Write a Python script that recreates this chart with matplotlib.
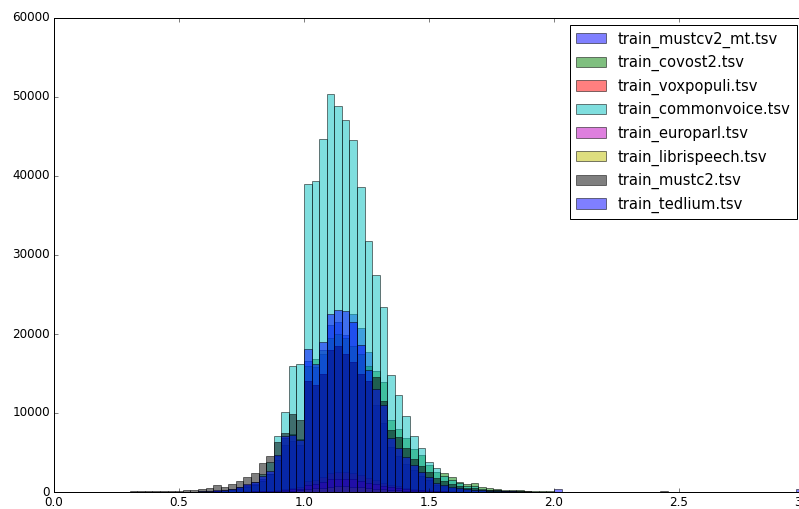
import numpy as np
import matplotlib
matplotlib.use("Agg")
import matplotlib.pyplot as plt

# ---- data: counts per bin, 99 bins between 0 and 3 ----
bin_lo, bin_hi, n_edges = 0.0, 3.0, 100

labels = ["train_mustcv2_mt.tsv", "train_covost2.tsv", "train_voxpopuli.tsv",
          "train_commonvoice.tsv", "train_europarl.tsv", "train_librispeech.tsv",
          "train_mustc2.tsv", "train_tedlium.tsv"]

mustcv2_mt = [0, 0, 0, 0, 0, 0, 0, 0, 0, 0, 0,
              0, 0, 0, 0, 10, 20, 30, 40, 50, 60,
              120, 180, 250, 450, 800, 1000, 1700, 2300, 4000, 6000,
              6500, 6000, 16580, 15800, 17500, 21140, 21500, 19880, 22530, 20800,
              17720, 11010, 8700, 5740, 4500, 3500, 2800, 2000, 1500, 900,
              700, 550, 400, 300, 250, 180, 130, 100, 80, 60,
              50, 40, 30, 20, 20, 340, 30, 20, 20, 10,
              10, 30, 30, 30, 30, 30, 30, 30, 30, 30,
              30, 30, 30, 30, 30, 10, 10, 10, 10, 10,
              10, 10, 10, 10, 10, 10, 10, 340]

covost2 = [0, 0, 0, 0, 0, 0, 0, 0, 0, 0, 0,
           0, 0, 0, 0, 0, 0, 20, 30, 40, 50,
           100, 150, 250, 400, 600, 900, 1400, 2300, 4500, 6800,
           7400, 6700, 16000, 16800, 18000, 19500, 20000, 19500, 18500, 17500,
           15950, 15360, 13960, 9110, 7940, 6800, 5450, 4680, 3420, 2570,
           2360, 1940, 1300, 1010, 1100, 590, 460, 380, 300, 250,
           200, 150, 120, 100, 80, 60, 50, 40, 30, 20,
           10, 10, 10, 0, 0, 0, 0, 0, 0, 0,
           0, 0, 0, 0, 0, 0, 0, 0, 0, 0,
           0, 0, 0, 0, 0, 0, 0, 0]

voxpopuli = [0, 0, 0, 0, 0, 0, 0, 0, 0, 0, 0,
             0, 0, 0, 0, 0, 0, 0, 0, 0, 20,
             30, 40, 50, 60, 70, 80, 90, 100, 200, 350,
             500, 600, 1400, 1500, 1900, 2400, 2500, 2500, 2400, 2100,
             1800, 1500, 1200, 900, 700, 550, 400, 300, 200, 150,
             100, 80, 60, 50, 40, 30, 20, 10, 10, 0,
             0, 0, 0, 0, 0, 0, 0, 0, 0, 0,
             0, 0, 0, 0, 0, 0, 0, 0, 0, 0,
             0, 0, 0, 0, 0, 0, 0, 0, 0, 0,
             0, 0, 0, 0, 0, 0, 0, 0]

commonvoice = [0, 0, 0, 0, 0, 0, 0, 0, 0, 0, 0,
               0, 0, 0, 0, 20, 30, 40, 60, 80, 100,
               150, 250, 400, 600, 900, 1300, 2300, 3840, 7050, 10100,
               15950, 16160, 39030, 39410, 44650, 50390, 48870, 47100, 44560, 38570,
               31740, 27430, 23380, 14770, 12340, 9620, 7150, 5600, 3860, 3100,
               2000, 1500, 1100, 800, 700, 400, 300, 200, 150, 100,
               80, 50, 40, 30, 20, 20, 10, 10, 10, 0,
               0, 0, 0, 0, 0, 0, 0, 0, 0, 0,
               0, 0, 0, 0, 0, 0, 0, 0, 0, 0,
               0, 0, 0, 0, 0, 0, 0, 0]

europarl = [0, 0, 0, 0, 0, 0, 0, 0, 0, 0, 0,
            0, 0, 0, 0, 0, 0, 0, 0, 0, 10,
            20, 30, 40, 50, 60, 70, 80, 90, 150, 250,
            350, 400, 900, 1000, 1300, 1600, 1700, 1700, 1600, 1400,
            1200, 1000, 800, 600, 450, 350, 250, 200, 150, 100,
            70, 50, 40, 30, 20, 10, 10, 0, 0, 0,
            0, 0, 0, 0, 0, 0, 0, 0, 0, 0,
            0, 0, 0, 0, 0, 0, 0, 0, 0, 0,
            0, 0, 0, 0, 0, 0, 0, 0, 0, 0,
            0, 0, 0, 0, 0, 0, 0, 0]

librispeech = [0, 0, 0, 0, 0, 0, 0, 0, 0, 0, 0,
               0, 0, 0, 0, 0, 0, 0, 0, 0, 0,
               10, 10, 20, 20, 30, 40, 50, 60, 80, 120,
               180, 200, 400, 450, 550, 650, 700, 700, 650, 600,
               500, 400, 330, 250, 200, 150, 100, 80, 60, 40,
               30, 20, 10, 10, 0, 0, 0, 0, 0, 0,
               0, 0, 0, 0, 0, 0, 0, 0, 0, 0,
               0, 0, 0, 0, 0, 0, 0, 0, 0, 0,
               0, 0, 0, 0, 0, 0, 0, 0, 0, 0,
               0, 0, 0, 0, 0, 0, 0, 0]

mustc2 = [0, 0, 0, 0, 0, 0, 0, 0, 0, 0, 100,
          100, 100, 100, 150, 150, 150, 200, 250, 340, 460,
          890, 670, 970, 1430, 1940, 2450, 3630, 4600, 6290, 7430,
          9830, 9110, 14000, 13500, 15000, 17980, 18500, 17500, 16500, 15000,
          14000, 14520, 11500, 7850, 7000, 5530, 4200, 3300, 2500, 1800,
          1400, 1000, 700, 500, 450, 300, 250, 200, 150, 120,
          100, 80, 60, 50, 40, 30, 30, 20, 20, 20,
          10, 10, 10, 10, 10, 10, 10, 10, 10, 170,
          10, 10, 10, 10, 10, 10, 10, 10, 10, 10,
          10, 10, 10, 10, 60, 10, 0, 0]

tedlium = [0, 0, 0, 0, 0, 0, 0, 0, 0, 0, 0,
           0, 0, 0, 0, 20, 30, 40, 50, 70, 100,
           200, 250, 350, 600, 1000, 1250, 2000, 2600, 4700, 7100,
           7220, 6580, 18150, 16200, 19030, 22530, 23040, 22960, 21560, 18610,
           15450, 13080, 11010, 6800, 5530, 4470, 3400, 2570, 1940, 1100,
           850, 650, 450, 350, 300, 200, 150, 120, 100, 80,
           60, 50, 40, 30, 20, 20, 10, 10, 10, 10,
           0, 0, 0, 0, 0, 0, 0, 0, 0, 0,
           0, 0, 0, 0, 0, 0, 0, 0, 0, 0,
           0, 0, 0, 0, 0, 0, 0, 0]

series = [mustcv2_mt, covost2, voxpopuli, commonvoice,
          europarl, librispeech, mustc2, tedlium]

# ---- plotting ----
plt.style.use("classic")
plt.rcParams["figure.facecolor"] = "white"
plt.rcParams["savefig.facecolor"] = "white"

W, H, DPI = 799, 509, 72
fig = plt.figure(figsize=(W / DPI, H / DPI), dpi=DPI)
ax = fig.add_axes([54 / W, 17 / H, 750 / W, 474 / H])

edges = np.linspace(bin_lo, bin_hi, n_edges)
centers = 0.5 * (edges[:-1] + edges[1:])

for vals, lab in zip(series, labels):
    ax.hist(centers, bins=edges, weights=np.asarray(vals, dtype=float),
            alpha=0.5, label=lab)

ax.set_xlim(0, 3)
ax.set_ylim(0, 60000)
ax.legend(loc="upper right", fontsize=14.8)

fig.savefig("out.png", dpi=DPI)
